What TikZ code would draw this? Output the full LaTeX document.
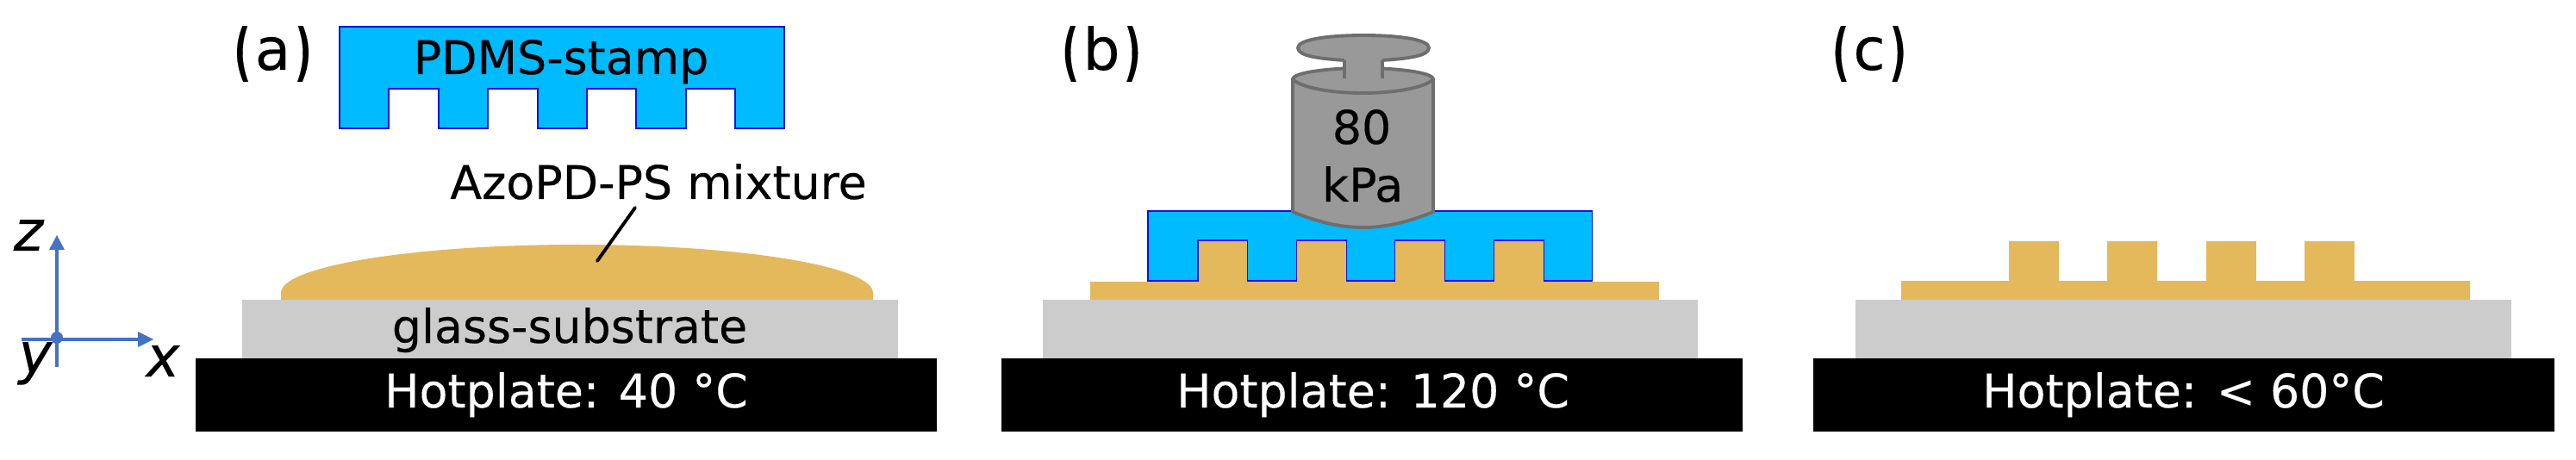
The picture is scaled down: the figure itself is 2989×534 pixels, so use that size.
\documentclass[tikz,border=0pt]{standalone}
\usepackage{fontspec}
\usepackage{graphicx}
\setmainfont{DejaVu Sans}[FakeBold=0.25]
\definecolor{stampfill}{HTML}{00BBFF}
\definecolor{stampline}{HTML}{0A10E8}
\definecolor{gold}{HTML}{E3B95B}
\definecolor{glass}{HTML}{CCCCCC}
\definecolor{axisblue}{HTML}{4472C4}
\definecolor{wfill}{HTML}{999999}
\definecolor{wline}{HTML}{6E6E6E}
\newcommand{\fsmain}{\fontsize{15.3pt}{18pt}\selectfont}
\newcommand{\fspanel}{\fontsize{19.3pt}{23pt}\selectfont}
\newcommand{\fsaxis}{\fontsize{18.6pt}{22pt}\selectfont\itshape}
\newcommand{\tallp}[1]{\raisebox{-0.12em}{\scalebox{1}[1.3]{#1}}}
\tikzset{
  x=0.01cm,y=-0.01cm,
  label/.style={inner sep=0,outer sep=0,anchor=base,font=\fsmain},
  panel/.style={inner sep=0,outer sep=0,anchor=base,font=\fspanel},
  axl/.style={inner sep=0,outer sep=0,anchor=base,font=\fsaxis},
  hot/.style={fill=black,draw=none},
  glassbox/.style={fill=glass,draw=none},
  goldfill/.style={fill=gold,draw=none},
  stamp/.style={fill=stampfill,draw=stampline,line width=0.3pt},
  weight/.style={fill=wfill,draw=wline,line width=1.1pt,line join=round},
  axis/.style={draw=axisblue,line width=1.25pt},
  axhead/.style={fill=axisblue,draw=none},
}
\begin{document}
\begin{tikzpicture}
\useasboundingbox (0,0) rectangle (2989,534);
% ---------- axes
\coordinate (axO) at (66,394);
\coordinate (axZ) at (66,285);
\coordinate (axZb) at (66,426);
\coordinate (axX) at (165,394);
\coordinate (axXb) at (25,394);
\draw[axis] (axZb) -- (axZ);
\draw[axis] (axXb) -- (axX);
\fill[axhead] (66,273) -- (75,290) -- (57,290) -- cycle;
\fill[axhead] (178,394) -- (160,385) -- (160,403) -- cycle;
\fill[axisblue] (66,392) ellipse (7 and 7);
\node[axl] (lz) at (33,291) {z};
\node[axl] (ly) at (41,433) {y};
\node[axl] (lx) at (189,437) {x};
% ---------- panel a
\fill[hot] (227,416) rectangle (1087,501);
\fill[glassbox] (281,348) rectangle (1042,416);
\fill[goldfill] (326,348) -- (326,340) .. controls (326,309) and (480.6,284) .. (669.5,284)
   .. controls (858.4,284) and (1013,309) .. (1013,340) -- (1013,348) -- cycle;
\draw[stamp] (394,31) -- (910,31) -- (910,149) -- (853,149) -- (853,103) -- (796,103) -- (796,149)
  -- (738,149) -- (738,103) -- (681,103) -- (681,149) -- (624,149) -- (624,103) -- (566,103)
  -- (566,149) -- (509,149) -- (509,103) -- (451,103) -- (451,149) -- (394,149) -- cycle;
\node[label] (tstamp) at (651,86) {PDMS-stamp};
\node[label] (tazo) at (764,231) {AzoPD-PS mixture};
\node[label] (tglass) at (661,398) {glass-substrate};
\node[label,text=white] (hota) at (657,473) {Hotplate: 40 °C};
\coordinate (leadA) at (737,241);
\coordinate (leadB) at (693,303);
\draw[black,line width=1.1pt,line cap=round] (leadA) -- (leadB);
% ---------- panel b
\fill[hot] (1162,416) rectangle (2022,501);
\fill[glassbox] (1210,348) rectangle (1970,416);
\draw[stamp] (1332,245) -- (1847,245) -- (1847,326) -- (1332,326) -- cycle;
\fill[goldfill] (1265,327) rectangle (1925,348);
\foreach \xa/\xb in {1390/1447.5,1504.5/1562,1618.5/1676,1733/1791}{
  \fill[goldfill] (\xa,279) rectangle (\xb,328);
  \draw[stampline,line width=0.3pt] (\xa,327) -- (\xa,279) -- (\xb,279) -- (\xb,327);
}
\node[label,text=white] (hotb) at (1593,473) {Hotplate: 120 °C};
% weight
\draw[weight] (1500,92) -- (1500,246) .. controls (1530,258) and (1555,264) .. (1581.5,264)
  .. controls (1608,264) and (1633,258) .. (1663,246) -- (1663,92)
  .. controls (1663,84) and (1620,79) .. (1581.5,79) .. controls (1543,79) and (1500,84) .. (1500,92) -- cycle;
\draw[weight] (1500,92) .. controls (1510,102) and (1545,108) .. (1581.5,108) .. controls (1618,108) and (1653,102) .. (1663,92);
\path[fill=wfill] (1560,68) rectangle (1604,91);
\draw[weight] (1560,70) .. controls (1530,68) and (1506,65) .. (1506,55.5) .. controls (1506,46) and (1540,41) .. (1582,41)
  .. controls (1624,41) and (1658,46) .. (1658,55.5) .. controls (1658,65) and (1634,68) .. (1604,70);
\path[fill=wfill] (1561,60) rectangle (1603,91);
\draw[weight] (1560,70) -- (1560,91);
\draw[weight] (1604,70) -- (1604,91);
\node[label] (t80) at (1580,167) {80};
\node[label] (tkpa) at (1581,234) {kPa};
% ---------- panel c
\fill[hot] (2104,416) rectangle (2964,501);
\fill[glassbox] (2153,348) rectangle (2914,416);
\fill[goldfill] (2206,326) rectangle (2866,348);
\foreach \xa/\xb in {2331/2389,2445/2503,2560/2618,2674/2732}{
  \fill[goldfill] (\xa,280) rectangle (\xb,327);
}
\node[label,text=white] (hotc) at (2533.5,473) {Hotplate: < 60°C};
% ---------- panel letters (clipped at their text box, as in the reference)
\begin{scope}
\clip (200,31) rectangle (2300,95);
\node[panel] (pa) at (316.5,81) {\tallp{(}a\tallp{)}};
\node[panel] (pb) at (1278,81) {\tallp{(}b\tallp{)}};
\node[panel] (pc) at (2169,81) {\tallp{(}c\tallp{)}};
\end{scope}
\end{tikzpicture}
\end{document}
